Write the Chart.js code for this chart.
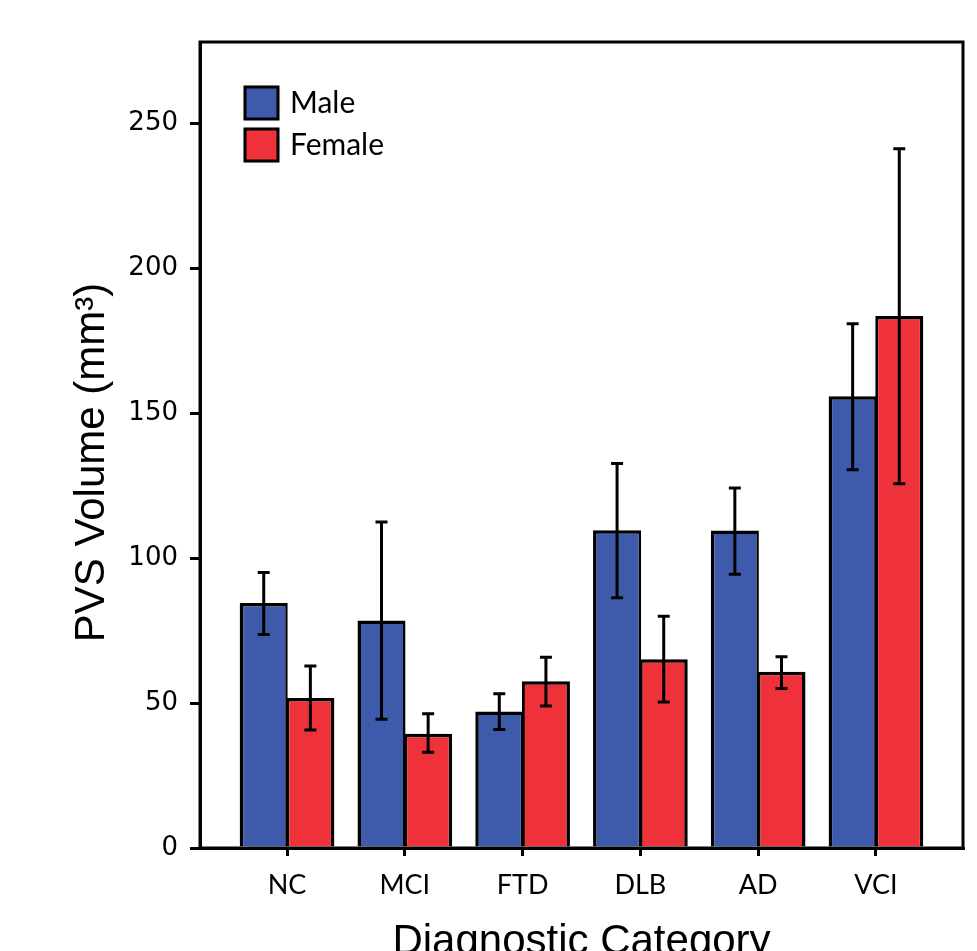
<!DOCTYPE html>
<html>
<head>
<meta charset="utf-8">
<script src="https://cdn.jsdelivr.net/npm/chart.js@4"></script>
<style>
  html, body { margin: 0; padding: 0; background: #fff; overflow: hidden; }
  canvas { display: block; }
</style>
</head>
<body>
<canvas id="c" width="977" height="975"></canvas>
<script>
// ---- data ----
const categories = ["NC", "MCI", "FTD", "DLB", "AD", "VCI"];
const seriesNames = ["Male", "Female"];
const maleValues = [84.5, 78.5, 47.1, 109.6, 109.5, 155.8];
const maleLow    = [73.6, 44.4, 40.9, 86.3, 94.4, 130.5];
const maleHigh   = [95.0, 112.4, 53.2, 132.6, 124.2, 180.8];
const femaleValues = [51.7, 39.4, 57.5, 65.1, 60.8, 183.5];
const femaleLow    = [40.7, 33.0, 49.0, 50.4, 55.0, 125.6];
const femaleHigh   = [62.8, 46.3, 65.8, 79.9, 66.0, 241.2];
const yTicks = [0, 50, 100, 150, 200, 250];

const BLUE = "#3e5aaa";
const RED = "#ef313a";
const CANVAS_H = 975;

const errLow = [maleLow, femaleLow];
const errHigh = [maleHigh, femaleHigh];

const toPoints = (vals) => vals.map((v, i) => ({ x: i, y: v }));

const errorBarPlugin = {
  id: "errorBars",
  afterDatasetsDraw(chart) {
    const ctx = chart.ctx;
    const ys = chart.scales.y;
    ctx.save();
    ctx.strokeStyle = "#000";
    ctx.lineWidth = 3;
    ctx.lineCap = "butt";
    chart.data.datasets.forEach((ds, di) => {
      const meta = chart.getDatasetMeta(di);
      meta.data.forEach((bar, j) => {
        const x = bar.x;
        const yl = ys.getPixelForValue(errLow[di][j]);
        const yh = ys.getPixelForValue(errHigh[di][j]);
        const cap = 6;
        ctx.beginPath();
        ctx.moveTo(x, yl); ctx.lineTo(x, yh);
        ctx.moveTo(x - cap, yl); ctx.lineTo(x + cap, yl);
        ctx.moveTo(x - cap, yh); ctx.lineTo(x + cap, yh);
        ctx.stroke();
      });
    });
    ctx.restore();
  }
};

const framePlugin = {
  id: "frame",
  afterDraw(chart) {
    const { left, right, top, bottom } = chart.chartArea;
    const ctx = chart.ctx;
    ctx.save();
    ctx.strokeStyle = "#000";
    ctx.lineWidth = 3;
    ctx.strokeRect(left, top, right - left, bottom - top);
    ctx.restore();
  }
};

const legendPlugin = {
  id: "insideLegend",
  afterDraw(chart) {
    const ctx = chart.ctx;
    const { left, top } = chart.chartArea;
    ctx.save();
    chart.data.datasets.forEach((ds, i) => {
      const bx = left + 45, by = top + 45 + i * 42;
      ctx.shadowColor = "rgba(0,0,0,0.35)";
      ctx.shadowBlur = 3;
      ctx.fillStyle = ds.backgroundColor;
      ctx.fillRect(bx, by, 33, 32);
      ctx.shadowBlur = 0;
      ctx.strokeStyle = "#000";
      ctx.lineWidth = 3;
      ctx.strokeRect(bx, by, 33, 32);
      ctx.fillStyle = "#000";
      ctx.font = "30px Lato";
      ctx.textBaseline = "middle";
      ctx.textAlign = "left";
      ctx.fillText(ds.label, left + 90, by + 16);
    });
    ctx.restore();
  }
};

new Chart(document.getElementById("c"), {
  type: "bar",
  data: {
    datasets: [
      {
        label: seriesNames[0],
        data: toPoints(maleValues),
        backgroundColor: BLUE,
        borderColor: "#000",
        borderWidth: { top: 3.5, left: 3.5, right: 2.5, bottom: 0 },
        borderSkipped: false,
        inflateAmount: 0
      },
      {
        label: seriesNames[1],
        data: toPoints(femaleValues),
        backgroundColor: RED,
        borderColor: "#000",
        borderWidth: { top: 3.5, left: 3, right: 3.5, bottom: 0 },
        borderSkipped: false,
        inflateAmount: 0
      }
    ]
  },
  options: {
    responsive: false,
    animation: false,
    categoryPercentage: 0.792,
    barPercentage: 1.03,
    layout: { padding: { left: 0, right: 14, top: 42, bottom: 0 } },
    plugins: { legend: { display: false }, tooltip: { enabled: false } },
    scales: {
      x: {
        type: "linear",
        offset: false,
        min: -0.739,
        max: 5.739,
        afterBuildTicks(scale) {
          scale.ticks = categories.map((c, i) => ({ value: i }));
        },
        afterFit(scale) { scale.height = CANVAS_H - 848; },
        ticks: {
          autoSkip: false,
          maxRotation: 0,
          padding: 13,
          color: "#000",
          font: { family: "Lato", size: 27 },
          callback: (v) => categories[v]
        },
        grid: { offset: false, drawOnChartArea: false, drawTicks: true, tickLength: 8, lineWidth: 3, color: "#000" },
        border: { display: true, color: "#000", width: 3 },
        title: {
          display: true,
          text: "Diagnostic Category",
          color: "#000",
          font: { family: "Liberation Sans", size: 42 },
          padding: { top: 0, bottom: 7 }
        }
      },
      y: {
        min: 0,
        max: 278,
        afterBuildTicks(scale) {
          scale.ticks = yTicks.map((v) => ({ value: v }));
        },
        afterFit(scale) { scale.width = 200; },
        ticks: {
          padding: 12,
          color: "#000",
          font: { family: "DejaVu Sans", size: 26 }
        },
        grid: { drawOnChartArea: false, drawTicks: true, tickLength: 10, lineWidth: 3, color: "#000" },
        border: { display: true, color: "#000", width: 3 },
        title: {
          display: true,
          text: "PVS Volume (mm³)   ",
          color: "#000",
          font: { family: "Liberation Sans", size: 42 },
          padding: { top: 67, bottom: 0 }
        }
      }
    }
  },
  plugins: [errorBarPlugin, framePlugin, legendPlugin]
});
</script>
</body>
</html>
